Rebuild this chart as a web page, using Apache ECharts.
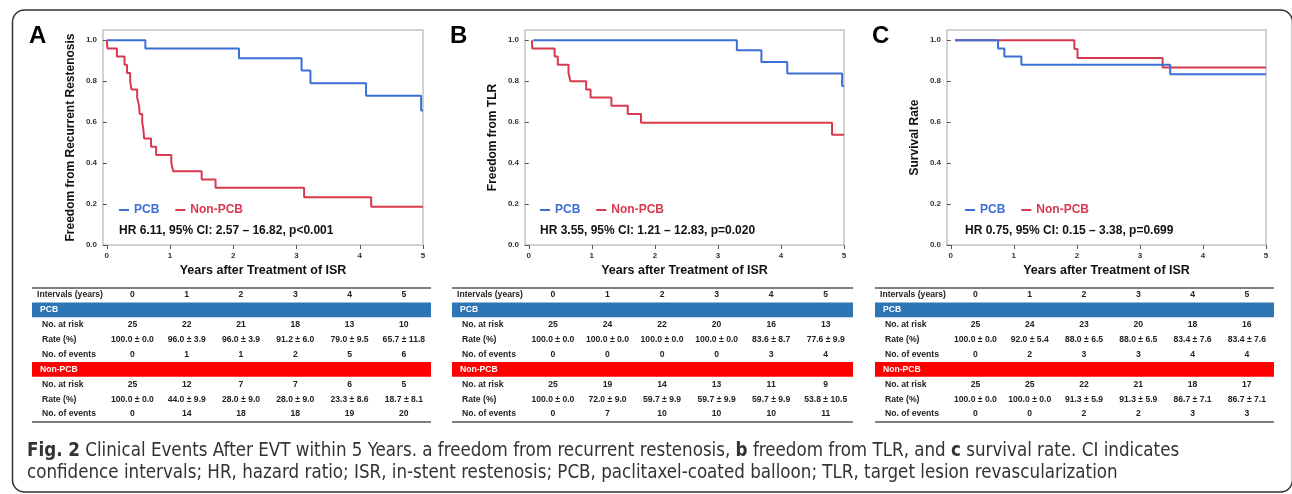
<!DOCTYPE html>
<html><head><meta charset="utf-8">
<script src="https://cdn.jsdelivr.net/npm/echarts@6/dist/echarts.min.js"></script>
<style>html,body{margin:0;padding:0;background:#fff}#c{width:1292px;height:494px}</style>
</head><body><div id="c"></div>
<script>
// ---------------- DATA ----------------
const intervals = [0, 1, 2, 3, 4, 5];
const rowLabels = ['No. at risk', 'Rate (%)', 'No. of events'];
const groupNames = ['PCB', 'Non-PCB'];

// Panel A: freedom from recurrent restenosis
const aPcbT = [0, 0.61, 2.09, 3.08, 3.22, 4.10, 4.97, 5.0];
const aPcbS = [1.0, 0.96, 0.912, 0.852, 0.79, 0.729, 0.657, 0.657];
const aNonT = [0, 0.01, 0.16, 0.28, 0.32, 0.37, 0.39, 0.48, 0.51, 0.52, 0.56, 0.58, 0.59, 0.70, 0.78, 1.02, 1.05, 1.50, 1.72, 3.12, 4.18, 5.0];
const aNonS = [1.0, 0.96, 0.92, 0.88, 0.84, 0.80, 0.76, 0.72, 0.68, 0.64, 0.60, 0.56, 0.52, 0.48, 0.44, 0.40, 0.36, 0.32, 0.28, 0.233, 0.187, 0.187];
const aPcbRisk = [25, 22, 21, 18, 13, 10];
const aPcbRate = [100.0, 96.0, 96.0, 91.2, 79.0, 65.7];
const aPcbSE = [0.0, 3.9, 3.9, 6.0, 9.5, 11.8];
const aPcbEv = [0, 1, 1, 2, 5, 6];
const aNonRisk = [25, 12, 7, 7, 6, 5];
const aNonRate = [100.0, 44.0, 28.0, 28.0, 23.3, 18.7];
const aNonSE = [0.0, 9.9, 9.0, 9.0, 8.6, 8.1];
const aNonEv = [0, 14, 18, 18, 19, 20];

// Panel B: freedom from TLR
const bPcbT = [0.07, 3.30, 3.69, 4.10, 4.97, 5.0];
const bPcbS = [1.0, 0.951, 0.894, 0.838, 0.776, 0.776];
const bNonT = [0.05, 0.055, 0.41, 0.46, 0.63, 0.66, 0.91, 0.98, 1.31, 1.57, 1.78, 4.81, 5.0];
const bNonS = [1.0, 0.96, 0.92, 0.88, 0.84, 0.80, 0.76, 0.72, 0.68, 0.64, 0.597, 0.538, 0.538];
const bPcbRisk = [25, 24, 22, 20, 16, 13];
const bPcbRate = [100.0, 100.0, 100.0, 100.0, 83.6, 77.6];
const bPcbSE = [0.0, 0.0, 0.0, 0.0, 8.7, 9.9];
const bPcbEv = [0, 0, 0, 0, 3, 4];
const bNonRisk = [25, 19, 14, 13, 11, 9];
const bNonRate = [100.0, 72.0, 59.7, 59.7, 59.7, 53.8];
const bNonSE = [0.0, 9.0, 9.9, 9.9, 9.9, 10.5];
const bNonEv = [0, 7, 10, 10, 10, 11];

// Panel C: survival rate
const cPcbT = [0.07, 0.75, 0.85, 1.12, 3.48, 5.0];
const cPcbS = [1.0, 0.96, 0.92, 0.88, 0.834, 0.834];
const cNonT = [0.07, 1.96, 2.01, 3.36, 5.0];
const cNonS = [1.0, 0.957, 0.913, 0.867, 0.867];
const cPcbRisk = [25, 24, 23, 20, 18, 16];
const cPcbRate = [100.0, 92.0, 88.0, 88.0, 83.4, 83.4];
const cPcbSE = [0.0, 5.4, 6.5, 6.5, 7.6, 7.6];
const cPcbEv = [0, 2, 3, 3, 4, 4];
const cNonRisk = [25, 25, 22, 21, 18, 17];
const cNonRate = [100.0, 100.0, 91.3, 91.3, 86.7, 86.7];
const cNonSE = [0.0, 0.0, 5.9, 5.9, 7.1, 7.1];
const cNonEv = [0, 0, 2, 2, 3, 3];

const letters = ['A', 'B', 'C'];
const yTitles = ['Freedom from Recurrent Restenosis', 'Freedom from TLR', 'Survival Rate'];
const hrTexts = ['HR 6.11, 95% CI: 2.57 \u2013 16.82, p<0.001', 'HR 3.55, 95% CI: 1.21 \u2013 12.83, p=0.020', 'HR 0.75, 95% CI: 0.15 \u2013 3.38, p=0.699'];
const xTitle = 'Years after Treatment of ISR';
const headerLabel = 'Intervals (years)';
const yTicks = [0, 0.2, 0.4, 0.6, 0.8, 1.0];
const xTicks = [0, 1, 2, 3, 4, 5];
const captionLine1 = '{b|Fig. 2} Clinical Events After EVT within 5 Years. a freedom from recurrent restenosis, {b|b} freedom from TLR, and {b|c} survival rate. CI indicates';
const captionLine2 = 'confidence intervals; HR, hazard ratio; ISR, in-stent restenosis; PCB, paclitaxel-coated balloon; TLR, target lesion revascularization';

const curves = [
  {pcb: [aPcbT, aPcbS], non: [aNonT, aNonS]},
  {pcb: [bPcbT, bPcbS], non: [bNonT, bNonS]},
  {pcb: [cPcbT, cPcbS], non: [cNonT, cNonS]}
];
const tables = [
  {pcb: [aPcbRisk, aPcbRate, aPcbSE, aPcbEv], non: [aNonRisk, aNonRate, aNonSE, aNonEv]},
  {pcb: [bPcbRisk, bPcbRate, bPcbSE, bPcbEv], non: [bNonRisk, bNonRate, bNonSE, bNonEv]},
  {pcb: [cPcbRisk, cPcbRate, cPcbSE, cPcbEv], non: [cNonRisk, cNonRate, cNonSE, cNonEv]}
];

// ---------------- STYLE / LAYOUT ----------------
const BLUE = '#3b6fd6', RED = '#d8394f', BAR_BLUE = '#2e75b6', BAR_RED = '#ff0000';
const FONT = '"Liberation Sans", Arial, sans-serif';
const layouts = [
  {letterX: 29, gridLeft: 103, gridW: 320, yGap: 26, legX: 119, tabLeft: 32, tabW: 399},
  {letterX: 450, gridLeft: 525, gridW: 319, yGap: 26, legX: 540, tabLeft: 452, tabW: 401},
  {letterX: 872, gridLeft: 947, gridW: 319, yGap: 26, legX: 965, tabLeft: 875, tabW: 399}
];
const PLOT_TOP = 30, PLOT_H = 215;
const TAB_TOP = 287.5, TAB_H = 134;
const TAB_XMIN = -1.85, TAB_XMAX = 5.5;

const grid = [], xAxis = [], yAxis = [], series = [], title = [], legend = [];
const pairToData = (t, s) => t.map((v, i) => [v, s[i]]);
const fmtRate = (r, se) => r.toFixed(1) + ' \u00b1 ' + se.toFixed(1);
const cellLabel = {show: true, position: 'inside', formatter: '{b}', fontSize: 8.6, fontWeight: 'bold',
  color: '#222', fontFamily: FONT, opacity: 1};

layouts.forEach((L, i) => {
  const gp = 2 * i, gt = 2 * i + 1;
  grid.push({left: L.gridLeft, top: PLOT_TOP, width: L.gridW, height: PLOT_H, show: true,
    borderColor: '#c4c4c4', borderWidth: 1.5, backgroundColor: 'transparent'});
  xAxis.push({type: 'value', gridIndex: gp, min: -0.06, max: 5,
    name: xTitle, nameLocation: 'middle', nameGap: 19,
    nameTextStyle: {fontSize: 12.5, fontWeight: 'bold', color: '#111', fontFamily: FONT},
    axisLine: {show: false}, splitLine: {show: false},
    axisTick: {show: true, customValues: xTicks, length: 4, lineStyle: {color: '#555'}},
    axisLabel: {customValues: xTicks, fontSize: 8, fontWeight: 'bold', color: '#333', margin: 7, fontFamily: FONT}});
  yAxis.push({type: 'value', gridIndex: gp, min: 0, max: 1.05,
    name: yTitles[i], nameLocation: 'middle', nameGap: L.yGap,
    nameTextStyle: {fontSize: 12, fontWeight: 'bold', color: '#111', fontFamily: FONT},
    axisLine: {show: false}, splitLine: {show: false},
    axisTick: {show: true, customValues: yTicks, length: 4, lineStyle: {color: '#555'}},
    axisLabel: {customValues: yTicks, fontSize: 8, fontWeight: 'bold', color: '#333', margin: 6,
      fontFamily: FONT, formatter: v => v.toFixed(1)}});
  grid.push({left: L.tabLeft, top: TAB_TOP, width: L.tabW, height: TAB_H, show: false});
  xAxis.push({type: 'value', gridIndex: gt, min: TAB_XMIN, max: TAB_XMAX, show: false});
  yAxis.push({type: 'value', gridIndex: gt, min: -0.5, max: 8.5, inverse: true, show: false});

  series.push({type: 'line', name: 'Non-PCB', xAxisIndex: gp, yAxisIndex: gp, step: 'end',
    data: pairToData(curves[i].non[0], curves[i].non[1]), showSymbol: false, symbol: 'none',
    lineStyle: {color: RED, width: 2}, itemStyle: {color: RED}, silent: true});
  series.push({type: 'line', name: 'PCB', xAxisIndex: gp, yAxisIndex: gp, step: 'end',
    data: pairToData(curves[i].pcb[0], curves[i].pcb[1]), showSymbol: false, symbol: 'none',
    lineStyle: {color: BLUE, width: 2}, itemStyle: {color: BLUE}, silent: true});
  title.push({text: letters[i], left: L.letterX, top: 24, padding: 0,
    textStyle: {fontSize: 24, fontWeight: 'bold', color: '#000', fontFamily: FONT}});
  title.push({text: hrTexts[i], left: L.legX, top: 225, padding: 0,
    textStyle: {fontSize: 12, fontWeight: 'bold', color: '#111', fontFamily: FONT}});
  legend.push({left: L.legX, top: 204, padding: 0, icon: 'rect', itemWidth: 10, itemHeight: 2,
    itemGap: 16, selectedMode: false,
    textStyle: {fontSize: 12, fontWeight: 'bold', fontFamily: FONT},
    data: [{name: 'PCB', textStyle: {color: BLUE}}, {name: 'Non-PCB', textStyle: {color: RED}}]});

  const T = tables[i];
  const cells = [];
  intervals.forEach((v, c) => cells.push({value: [c, 0], name: String(v)}));
  [[T.pcb, 2], [T.non, 6]].forEach(([d, r0]) => {
    intervals.forEach((v, c) => {
      cells.push({value: [c, r0], name: String(d[0][c])});
      cells.push({value: [c, r0 + 1], name: fmtRate(d[1][c], d[2][c])});
      cells.push({value: [c, r0 + 2], name: String(d[3][c])});
    });
  });
  series.push({type: 'scatter', xAxisIndex: gt, yAxisIndex: gt, data: cells, symbolSize: 0.5,
    itemStyle: {color: 'rgba(0,0,0,0)'}, silent: true, z: 5,
    label: cellLabel,
    markArea: {silent: true, label: {show: false},
      data: [[{yAxis: 0.5, itemStyle: {color: BAR_BLUE}}, {yAxis: 1.5}],
             [{yAxis: 4.5, itemStyle: {color: BAR_RED}}, {yAxis: 5.5}]]},
    markLine: {silent: true, symbol: ['none', 'none'], label: {show: false},
      lineStyle: {color: '#555', width: 1.5, type: 'solid'},
      data: [{yAxis: -0.5}, {yAxis: 8.5}]}});
  const lab = [{value: [TAB_XMIN, 0], name: headerLabel, label: {offset: [5, 0]}}];
  lab.push({value: [TAB_XMIN, 1], name: groupNames[0], label: {offset: [8, 0], color: '#fff'}});
  lab.push({value: [TAB_XMIN, 5], name: groupNames[1], label: {offset: [8, 0], color: '#fff'}});
  [2, 6].forEach(r0 => rowLabels.forEach((t, k) =>
    lab.push({value: [TAB_XMIN, r0 + k], name: t, label: {offset: [10, 0]}})));
  series.push({type: 'scatter', xAxisIndex: gt, yAxisIndex: gt, data: lab, symbolSize: 0.5,
    itemStyle: {color: 'rgba(0,0,0,0)'}, silent: true, z: 6,
    label: Object.assign({}, cellLabel, {align: 'left'})});
});

const CAP_FONT = '"Liberation Sans Narrow", "DejaVu Sans Condensed", sans-serif';
const CAP_SIZE = 18.6;
const option = {
  animation: false,
  backgroundColor: '#fff',
  grid, xAxis, yAxis, series, title, legend,
  graphic: [
    {type: 'rect', left: 10, top: 7.5, z: -1, silent: true,
      shape: {width: 1280, height: 482, r: 12},
      style: {fill: 'none', stroke: '#333', lineWidth: 1.5}},
    {type: 'text', left: 27, top: 442, silent: true,
      style: {text: captionLine1, fontSize: CAP_SIZE, fontFamily: CAP_FONT, fill: '#333',
        rich: {b: {fontWeight: 'bold', fontSize: CAP_SIZE, fontFamily: CAP_FONT, fill: '#333'}}}},
    {type: 'text', left: 27, top: 464, silent: true,
      style: {text: captionLine2, fontSize: CAP_SIZE, fontFamily: CAP_FONT, fill: '#333'}}
  ]
};
const chart = echarts.init(document.getElementById('c'));
chart.setOption(option);
</script></body></html>
